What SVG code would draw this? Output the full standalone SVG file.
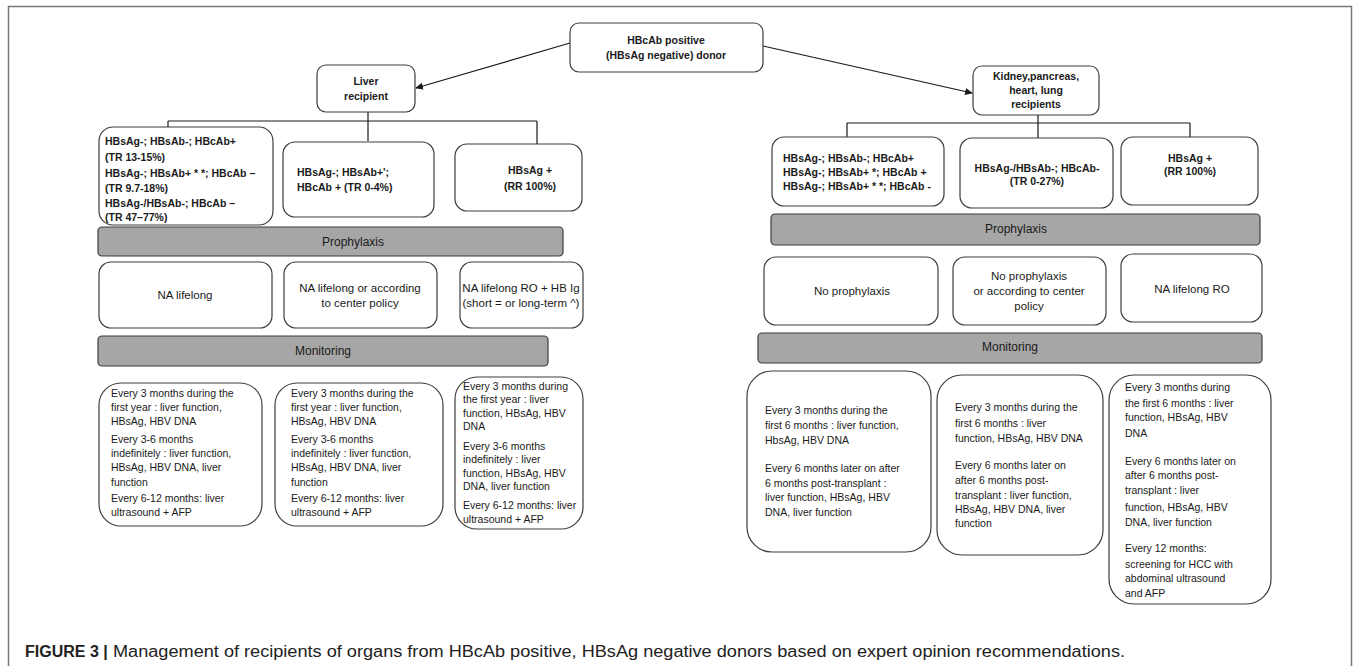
<svg xmlns="http://www.w3.org/2000/svg" width="1354" height="666" viewBox="0 0 1354 666">
<style>
.bx{fill:#fff;stroke:#3c3c3c;stroke-width:1.2}
.bar{fill:#a6a6a6;stroke:#3c3c3c;stroke-width:1.2}
.ln{fill:none;stroke:#1a1a1a;stroke-width:1.2}
text{font-family:"Liberation Sans",Arial,sans-serif;fill:#1a1a1a}
.b{font-weight:bold;font-size:10.5px}
.c{text-anchor:middle}
.p{font-size:11.5px}
.h{font-size:12px}
.m{font-size:10.5px}
.cap{font-size:16px;fill:#222}
</style>
<defs>
<marker id="ah" markerWidth="8" markerHeight="8" refX="7" refY="4" orient="auto" markerUnits="userSpaceOnUse">
<path d="M0,0.5 L8,4 L0,7.5 z" fill="#1a1a1a"/>
</marker>
</defs>
<path d="M8.5,666 V6.5 H1351.5 V666" fill="none" stroke="#777" stroke-width="1.5"/>

<g id="connectors">
<line class="ln" x1="570" y1="43" x2="416" y2="88" marker-end="url(#ah)"/>
<line class="ln" x1="763" y1="46" x2="972" y2="93" marker-end="url(#ah)"/>
<path class="ln" d="M368,112 V141 M168,121 H537 M168,121 V134 M537,121 V144"/>
<path class="ln" d="M1038,115 V138 M847,123 H1190 M847,123 V137 M1190,123 V137"/>
</g>

<g id="root">
<rect class="bx" x="570" y="23" width="193" height="49" rx="9"/>
<text class="b c" x="666" y="44">HBcAb positive</text>
<text class="b c" x="666" y="59">(HBsAg negative) donor</text>
</g>
<g id="liver">
<rect class="bx" x="317" y="65" width="98" height="47" rx="9"/>
<text class="b c" x="366" y="85">Liver</text>
<text class="b c" x="366" y="100">recipient</text>
</g>
<g id="kidney">
<rect class="bx" x="973" y="66" width="126" height="49" rx="9"/>
<text class="b c" x="1036" y="80">Kidney,pancreas,</text>
<text class="b c" x="1036" y="94">heart, lung</text>
<text class="b c" x="1036" y="108">recipients</text>
</g>

<g id="L1">
<rect class="bx" x="99" y="127" width="174" height="98" rx="14"/>
<text class="b" x="105" y="145">HBsAg-; HBsAb-; HBcAb+</text>
<text class="b" x="105" y="161">(TR  13-15%)</text>
<text class="b" x="105" y="177">HBsAg-; HBsAb+ * *; HBcAb –</text>
<text class="b" x="105" y="192">(TR 9.7-18%)</text>
<text class="b" x="105" y="207">HBsAg-/HBsAb-; HBcAb –</text>
<text class="b" x="105" y="221">(TR 47–77%)</text>
</g>
<g id="L2">
<rect class="bx" x="283" y="142" width="151" height="75" rx="12"/>
<text class="b" x="297" y="176">HBsAg-; HBsAb+';</text>
<text class="b" x="297" y="191">HBcAb +  (TR 0-4%)</text>
</g>
<g id="L3">
<rect class="bx" x="455" y="144" width="127" height="67" rx="12"/>
<text class="b c" x="530" y="174">HBsAg +</text>
<text class="b c" x="530" y="190">(RR 100%)</text>
</g>

<g id="L-proph">
<rect class="bar" x="98" y="227" width="465" height="29" rx="4"/>
<text class="h c" x="353" y="246">Prophylaxis</text>
</g>
<g id="LP1">
<rect class="bx" x="99" y="262" width="173" height="66" rx="12"/>
<text class="p c" x="185" y="299">NA lifelong</text>
</g>
<g id="LP2">
<rect class="bx" x="284" y="262" width="153" height="66" rx="12"/>
<text class="p c" x="360" y="292">NA lifelong or according</text>
<text class="p c" x="360" y="307">to center policy</text>
</g>
<g id="LP3">
<rect class="bx" x="460" y="262" width="123" height="66" rx="12"/>
<text class="p c" x="521" y="292">NA  lifelong RO + HB Ig</text>
<text class="p c" x="521" y="307">(short = or long-term ^)</text>
</g>

<g id="L-mon">
<rect class="bar" x="98" y="336" width="450" height="30" rx="4"/>
<text class="h c" x="323" y="355">Monitoring</text>
</g>
<g id="LM1">
<rect class="bx" x="99" y="383" width="163" height="143" rx="22"/>
<text class="m" x="111" y="397">Every 3 months during the</text>
<text class="m" x="111" y="411">first year : liver function,</text>
<text class="m" x="111" y="425">HBsAg,  HBV DNA</text>
<text class="m" x="111" y="443">Every 3-6 months</text>
<text class="m" x="111" y="457">indefinitely : liver function,</text>
<text class="m" x="111" y="471">HBsAg,  HBV DNA,  liver</text>
<text class="m" x="111" y="486">function</text>
<text class="m" x="111" y="502">Every 6-12 months:  liver</text>
<text class="m" x="111" y="516">ultrasound + AFP</text>
</g>
<g id="LM2">
<rect class="bx" x="275" y="383" width="168" height="143" rx="22"/>
<text class="m" x="291" y="397">Every 3 months during the</text>
<text class="m" x="291" y="411">first year : liver function,</text>
<text class="m" x="291" y="425">HBsAg,  HBV DNA</text>
<text class="m" x="291" y="443">Every 3-6 months</text>
<text class="m" x="291" y="457">indefinitely : liver function,</text>
<text class="m" x="291" y="471">HBsAg,  HBV DNA,  liver</text>
<text class="m" x="291" y="486">function</text>
<text class="m" x="291" y="502">Every 6-12 months:  liver</text>
<text class="m" x="291" y="516">ultrasound + AFP</text>
</g>
<g id="LM3">
<rect class="bx" x="455" y="377" width="128" height="152" rx="22"/>
<text class="m" x="463" y="390">Every 3 months during</text>
<text class="m" x="463" y="403">the first year : liver</text>
<text class="m" x="463" y="417">function, HBsAg,  HBV</text>
<text class="m" x="463" y="430">DNA</text>
<text class="m" x="463" y="450">Every 3-6 months</text>
<text class="m" x="463" y="463">indefinitely : liver</text>
<text class="m" x="463" y="477">function, HBsAg,  HBV</text>
<text class="m" x="463" y="490">DNA,  liver function</text>
<text class="m" x="463" y="509">Every 6-12 months:  liver</text>
<text class="m" x="463" y="523">ultrasound + AFP</text>
</g>

<g id="RA">
<rect class="bx" x="772" y="137" width="172" height="69" rx="12"/>
<text class="b" x="783" y="162">HBsAg-; HBsAb-; HBcAb+</text>
<text class="b" x="783" y="176">HBsAg-; HBsAb+ *; HBcAb +</text>
<text class="b" x="783" y="190">HBsAg-; HBsAb+ * *; HBcAb -</text>
</g>
<g id="RB">
<rect class="bx" x="960" y="138" width="153" height="70" rx="12"/>
<text class="b c" x="1037" y="172">HBsAg-/HBsAb-; HBcAb-</text>
<text class="b c" x="1037" y="185">(TR 0-27%)</text>
</g>
<g id="RC">
<rect class="bx" x="1121" y="137" width="137" height="68" rx="12"/>
<text class="b c" x="1190" y="162">HBsAg +</text>
<text class="b c" x="1190" y="175">(RR 100%)</text>
</g>

<g id="R-proph">
<rect class="bar" x="771" y="214" width="489" height="31" rx="4"/>
<text class="h c" x="1016" y="233">Prophylaxis</text>
</g>
<g id="RP1">
<rect class="bx" x="764" y="257" width="174" height="68" rx="12"/>
<text class="p c" x="852" y="295">No prophylaxis</text>
</g>
<g id="RP2">
<rect class="bx" x="953" y="257" width="153" height="68" rx="12"/>
<text class="p c" x="1029" y="280">No prophylaxis</text>
<text class="p c" x="1029" y="295">or according to center</text>
<text class="p c" x="1029" y="310">policy</text>
</g>
<g id="RP3">
<rect class="bx" x="1121" y="254" width="141" height="68" rx="12"/>
<text class="p c" x="1192" y="293">NA lifelong RO</text>
</g>

<g id="R-mon">
<rect class="bar" x="758" y="333" width="504" height="30" rx="4"/>
<text class="h c" x="1010" y="351">Monitoring</text>
</g>
<g id="RM1">
<rect class="bx" x="747" y="371" width="184" height="181" rx="25"/>
<text class="m" x="765" y="414">Every 3 months during the</text>
<text class="m" x="765" y="429">first 6 months : liver function,</text>
<text class="m" x="765" y="444">HbsAg,  HBV DNA</text>
<text class="m" x="765" y="472">Every 6 months later on after</text>
<text class="m" x="765" y="487">6 months post-transplant :</text>
<text class="m" x="765" y="501">liver function, HBsAg,  HBV</text>
<text class="m" x="765" y="516">DNA,  liver function</text>
</g>
<g id="RM2">
<rect class="bx" x="937" y="375" width="166" height="180" rx="25"/>
<text class="m" x="955" y="411">Every 3 months during the</text>
<text class="m" x="955" y="427">first 6 months : liver</text>
<text class="m" x="955" y="442">function, HBsAg,  HBV DNA</text>
<text class="m" x="955" y="469">Every 6 months later on</text>
<text class="m" x="955" y="484">after 6 months post-</text>
<text class="m" x="955" y="499">transplant : liver function,</text>
<text class="m" x="955" y="513">HBsAg,  HBV DNA,  liver</text>
<text class="m" x="955" y="527">function</text>
</g>
<g id="RM3">
<rect class="bx" x="1109" y="375" width="162" height="229" rx="25"/>
<text class="m" x="1125" y="391">Every 3 months during</text>
<text class="m" x="1125" y="407">the first 6 months :  liver</text>
<text class="m" x="1125" y="421">function, HBsAg,  HBV</text>
<text class="m" x="1125" y="437">DNA</text>
<text class="m" x="1125" y="465">Every 6 months later on</text>
<text class="m" x="1125" y="479">after 6 months post-</text>
<text class="m" x="1125" y="494">transplant : liver</text>
<text class="m" x="1125" y="511">function, HBsAg,  HBV</text>
<text class="m" x="1125" y="526">DNA,  liver function</text>
<text class="m" x="1125" y="552">Every 12 months:</text>
<text class="m" x="1125" y="568">screening for HCC with</text>
<text class="m" x="1125" y="582">abdominal ultrasound</text>
<text class="m" x="1125" y="597">and AFP</text>
</g>

<g id="caption">
<text class="cap" x="25" y="657" font-weight="bold">FIGURE 3 |</text>
<text class="cap" x="113" y="657" textLength="1012" lengthAdjust="spacingAndGlyphs">Management of recipients of organs from HBcAb positive, HBsAg negative donors based on expert opinion recommendations.</text>
</g>
</svg>
